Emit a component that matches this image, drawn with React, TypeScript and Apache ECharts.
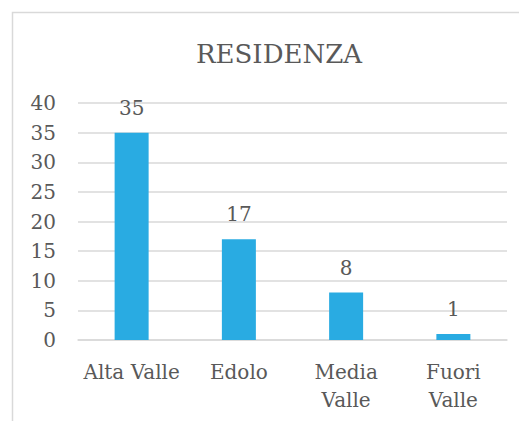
import React, { useEffect, useRef } from "react";
import * as echarts from "echarts";

const categories = ["Alta Valle", "Edolo", "Media\nValle", "Fuori\nValle"];
const values = [35, 17, 8, 1];
const titleText = "RESIDENZA";

const FONT = "DejaVu Serif";
const TEXT = "#595959";

export default function App() {
  const ref = useRef<HTMLDivElement>(null);
  useEffect(() => {
    if (!ref.current) return;
    const chart = echarts.init(ref.current, undefined, { renderer: "svg" });
    chart.setOption({
      animation: false,
      backgroundColor: "#ffffff",
      title: {
        text: titleText,
        left: 191,
        top: 36,
        textStyle: { fontFamily: FONT, fontSize: 26, fontWeight: "normal", color: TEXT },
      },
      graphic: [
        {
          type: "polyline",
          shape: { points: [[12.5, 421], [12.5, 12.5], [519, 12.5]] },
          style: { stroke: "#d9d9d9", lineWidth: 1.5, fill: "none" },
          silent: true,
        },
      ],
      grid: { left: 78, right: 12, top: 103, bottom: 81, containLabel: false },
      xAxis: {
        type: "category",
        data: categories,
        axisLine: { show: true, lineStyle: { color: "#d9d9d9", width: 1.5 } },
        axisTick: { show: false },
        axisLabel: {
          fontFamily: FONT,
          fontSize: 20,
          color: TEXT,
          margin: 18,
          lineHeight: 28,
          interval: 0,
        },
      },
      yAxis: {
        type: "value",
        min: 0,
        max: 40,
        interval: 5,
        axisLine: { show: false },
        axisTick: { show: false },
        splitLine: { show: true, lineStyle: { color: "#d9d9d9", width: 1.5 } },
        axisLabel: { fontFamily: FONT, fontSize: 20, color: TEXT, margin: 22 },
      },
      series: [
        {
          type: "bar",
          data: values,
          barWidth: 34,
          itemStyle: { color: "#29abe2" },
          label: {
            show: true,
            position: "top",
            distance: 15,
            fontFamily: FONT,
            fontSize: 20,
            color: TEXT,
          },
        },
      ],
    });
    return () => chart.dispose();
  }, []);
  return (
    <div
      ref={ref}
      style={{ position: "fixed", left: 0, top: 0, width: 519, height: 421 }}
    />
  );
}
